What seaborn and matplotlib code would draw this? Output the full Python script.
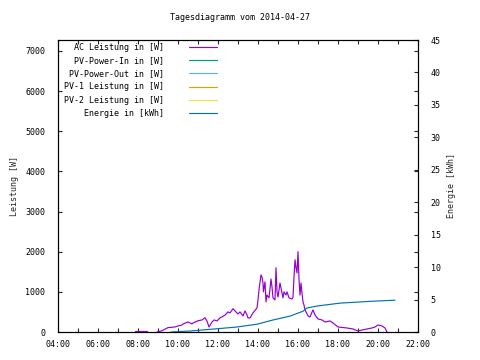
import matplotlib
matplotlib.use("Agg")
import matplotlib.pyplot as plt
import numpy as np
import pandas as pd
import seaborn as sns
from matplotlib.ticker import MultipleLocator

TITLE = "Tagesdiagramm vom 2014-04-27"

# early short morning segment of AC power (hours, W)
ac_early_hours = [7.85, 8.45]
ac_early_watts = [20, 20]

# AC power over the day (hours, W)
ac_hours = [
    8.95, 9.2, 9.5, 9.85, 10.0, 10.2, 10.25, 10.5, 10.7, 10.75, 11.0, 11.2, 11.35, 11.45, 11.55,
    11.7, 11.8, 11.95, 12.1, 12.35, 12.5, 12.6, 12.75, 12.9, 13.0, 13.1, 13.25, 13.35, 13.45, 13.5,
    13.6, 13.75, 13.95, 14.0, 14.05, 14.15, 14.2, 14.25, 14.27, 14.35, 14.4, 14.45, 14.55, 14.65,
    14.7, 14.75, 14.85, 14.9, 14.95, 15.0, 15.1, 15.2, 15.25, 15.3, 15.4, 15.45, 15.55, 15.7,
    15.75, 15.8, 15.85, 15.9, 15.95, 16.0, 16.05, 16.1, 16.15, 16.2, 16.25, 16.3, 16.35, 16.5,
    16.6, 16.75, 16.85, 17.0, 17.2, 17.35, 17.6, 17.75, 18.0, 18.45, 18.75, 19.0, 19.2, 19.45,
    19.7, 19.85, 20.0, 20.2, 20.35, 20.45,
]
ac_watts = [
    0, 30, 110, 125, 150, 175, 200, 250, 200, 225, 280, 300, 355, 270, 125,
    250, 300, 275, 350, 420, 500, 475, 580, 500, 450, 500, 400, 525, 425, 350,
    350, 475, 600, 800, 1050, 1420, 1370, 1220, 1000, 1250, 750, 920, 850, 1320,
    1120, 850, 800, 1600, 1000, 870, 1220, 970, 850, 1000, 920, 1000, 850, 820,
    870, 1370, 1800, 1600, 1470, 2000, 1300, 920, 1220, 970, 750, 670, 550, 400,
    375, 550, 425, 325, 300, 250, 275, 225, 125, 100, 75, 25, 50, 75,
    100, 125, 175, 150, 100, 0,
]

# cumulative energy (hours, kWh)
energy_hours = [9.65, 10.6, 11.95, 12.95, 13.95, 14.75, 15.6, 16.25, 16.45, 16.95, 18.1, 19.75, 20.85]
energy_kwh = [0.0, 0.15, 0.5, 0.77, 1.2, 1.85, 2.45, 3.2, 3.7, 4.0, 4.45, 4.75, 4.9]

series_labels = [
    "AC Leistung in [W]",
    "PV-Power-In in [W]",
    "PV-Power-Out in [W]",
    "PV-1 Leistung in [W]",
    "PV-2 Leistung in [W]",
    "Energie in [kWh]",
]
series_colors = ["#9400d3", "#009e73", "#56b4e9", "#e69f00", "#f0e442", "#0072b2"]

x_ticks = [4, 6, 8, 10, 12, 14, 16, 18, 20, 22]
x_ticklabels = ["04:00", "06:00", "08:00", "10:00", "12:00", "14:00", "16:00", "18:00", "20:00", "22:00"]
y_ticks = [0, 1000, 2000, 3000, 4000, 5000, 6000, 7000]
y2_ticks = [0, 5, 10, 15, 20, 25, 30, 35, 40, 45]

sns.set_style("ticks")
plt.rcParams["font.family"] = ["DejaVu Sans Mono"]
plt.rcParams["font.size"] = 6
plt.rcParams["text.color"] = "black"

fig = plt.figure(figsize=(4.8, 3.6), dpi=100)
ax = fig.add_axes([58 / 480, 28 / 360, 360 / 480, 292 / 360])
ax2 = ax.twinx()

lw = 0.85
ac_df = pd.DataFrame({"hour": ac_hours, "watts": ac_watts})
early_df = pd.DataFrame({"hour": ac_early_hours, "watts": ac_early_watts})
energy_df = pd.DataFrame({"hour": energy_hours, "kwh": energy_kwh})

sns.lineplot(data=early_df, x="hour", y="watts", ax=ax, color=series_colors[0], lw=lw,
             estimator=None, sort=False, legend=False, clip_on=False)
sns.lineplot(data=ac_df, x="hour", y="watts", ax=ax, color=series_colors[0], lw=lw,
             estimator=None, sort=False, legend=False, clip_on=False)
sns.lineplot(data=energy_df, x="hour", y="kwh", ax=ax2, color=series_colors[5], lw=lw,
             estimator=None, sort=False, legend=False, clip_on=False)

ax.set_xlim(4, 22)
ax.set_ylim(0, 7270)
ax2.set_ylim(0, 45)

ax.set_xticks(x_ticks)
ax.set_xticklabels(x_ticklabels)
ax.xaxis.set_minor_locator(MultipleLocator(1))
ax.set_yticks(y_ticks)
ax.set_yticklabels([str(v) for v in y_ticks])
ax2.set_yticks(y2_ticks)
ax2.set_yticklabels([str(v) for v in y2_ticks])

ax.tick_params(axis="both", which="both", direction="in", length=3, width=0.8,
               top=True, right=True, labelsize=6, pad=9, labelcolor="black")
ax.tick_params(axis="x", pad=6)
ax.tick_params(axis="x", which="minor", length=3)
ax2.tick_params(axis="y", direction="in", length=3, width=0.8, labelsize=6, pad=9,
                labelcolor="black")

for a in (ax, ax2):
    for s in a.spines.values():
        s.set_linewidth(0.8)
        s.set_color("black")
        s.set_visible(True)

ax.set_xlabel("")
ax.set_ylabel("Leistung [W]", fontsize=6, labelpad=5)
ax2.set_ylabel("Energie [kWh]", fontsize=6, labelpad=5)
fig.suptitle(TITLE, fontsize=6, x=0.5, y=0.965)

handles = []
for lab, col in zip(series_labels, series_colors):
    h, = ax2.plot([], [], color=col, lw=lw, label=lab)
    handles.append(h)
ax2.legend(handles=handles, loc="upper left", bbox_to_anchor=(0.016, 0.99),
           frameon=False, markerfirst=False, fontsize=6, handlelength=3.4,
           handletextpad=3.0, labelspacing=0.5, borderaxespad=0, borderpad=0)

fig.savefig("out.png", dpi=100, facecolor="white")
